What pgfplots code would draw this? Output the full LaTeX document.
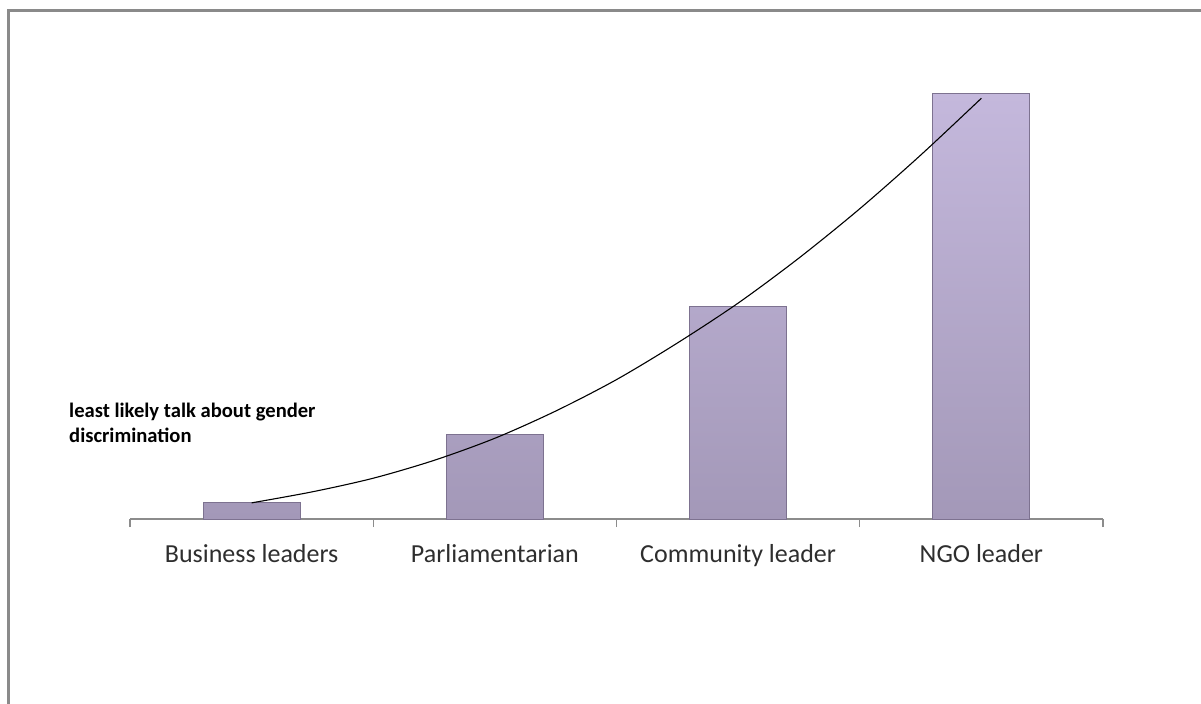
\documentclass[border=0pt]{standalone}
\usepackage{pgfplots}
\pgfplotsset{compat=1.18}
\usepackage{fontspec}
\setmainfont{Carlito}

\definecolor{axisgray}{HTML}{8C8C8C}
\definecolor{framegray}{HTML}{8A8A8A}
\definecolor{bartop}{HTML}{C4B8DC}
\definecolor{barmid}{HTML}{B6ABCD}
\definecolor{barbot}{HTML}{A398B8}
\definecolor{baredge}{HTML}{7D7290}
\definecolor{labelgray}{HTML}{2E2E2E}

\begin{document}
\begin{tikzpicture}
  \begin{axis}[
    name=ax,
    at={(0bp,0bp)}, anchor=south west,
    scale only axis,
    width=973bp, height=467.5bp,
    xmin=0.5, xmax=4.5,
    ymin=0, ymax=55,
    clip=false,
    axis x line*=bottom,
    axis y line=none,
    x axis line style={draw=axisgray, line width=1.2bp, -},
    xtick={1,2,3,4},
    xticklabels={Business leaders, Parliamentarian, Community leader, NGO leader},
    major tick length=0pt,
    xticklabel style={font=\fontsize{26bp}{31bp}\selectfont, text=labelgray,
                      anchor=base, yshift=-43bp},
    extra x ticks={0.5,1.5,2.5,3.5,4.5},
    extra x tick labels={},
    extra x tick style={major tick length=8bp, tick align=outside,
                        tick style={draw=axisgray, line width=1.2bp}},
    ytick=\empty,
  ]
    % bars
    \addplot[ybar, bar width=97bp, bar shift=0pt,
             draw=baredge, line width=1bp,
             shading=axis, top color=bartop, middle color=barmid, bottom color=barbot]
      coordinates {(1,2) (2,10) (3,25) (4,50)};

    % trend curve across the categories
    \addplot[black, line width=1.1bp, smooth, no marks]
      coordinates {
        (1,1.9) (1.25,3.2) (1.5,4.8) (1.75,6.9) (2,9.5)
        (2.25,12.7) (2.5,16.4) (2.75,20.7) (3,25.4)
        (3.25,30.7) (3.5,36.5) (3.75,42.8) (4,49.5)
      };
  \end{axis}

  % page area measured from the axis corner
  \pgfresetboundingbox
  \begin{scope}[shift={(ax.south west)}, shift={(-130bp,-185bp)}]
    \path[use as bounding box] (0bp,0bp) rectangle (1201bp,704bp);
    \begin{scope}
      \clip (0bp,0bp) rectangle (1201bp,704bp);
      \draw[framegray, line width=2.6bp] (8.3bp,-5bp) -- (8.3bp,693.5bp) -- (1210bp,693.5bp);
    \end{scope}
    % annotation
    \node[anchor=base west, inner sep=0pt, font=\bfseries\fontsize{20.6bp}{25bp}\selectfont, text=black]
      at (69bp,286bp) {least likely talk about gender};
    \node[anchor=base west, inner sep=0pt, font=\bfseries\fontsize{20.6bp}{25bp}\selectfont, text=black]
      at (69bp,261bp) {discrimination};
  \end{scope}
\end{tikzpicture}
\end{document}
